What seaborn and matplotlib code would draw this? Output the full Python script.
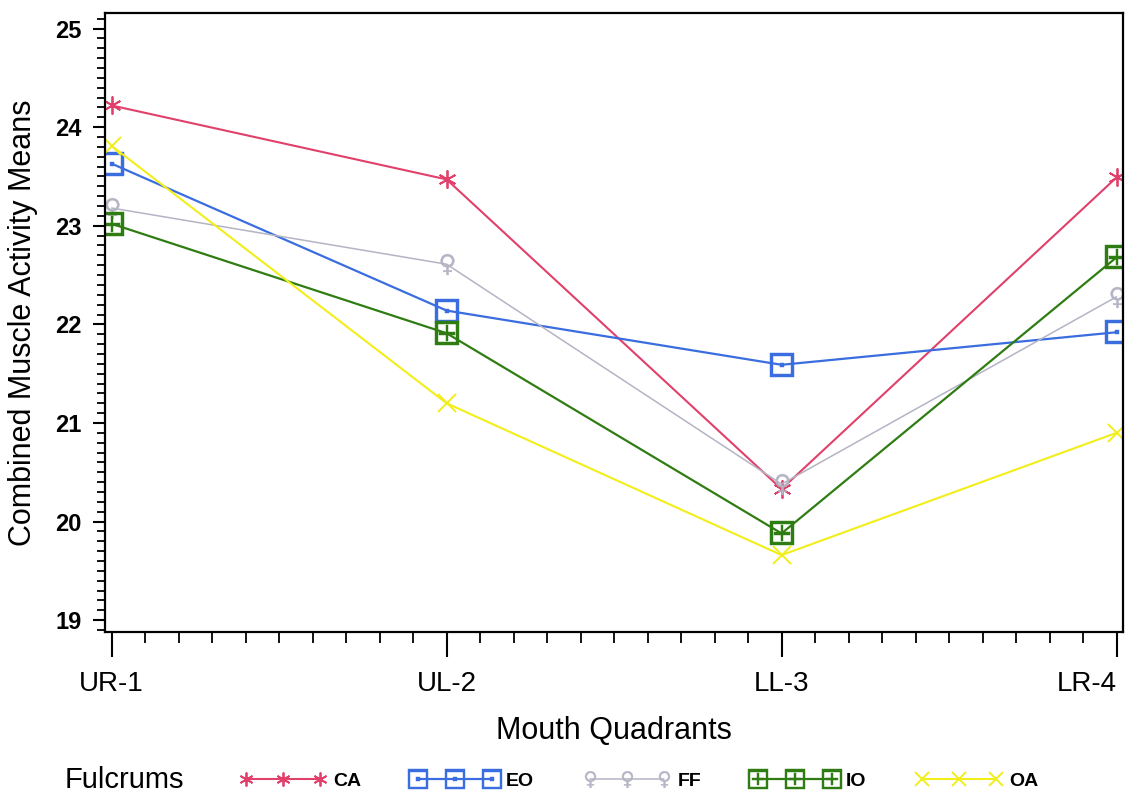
import numpy as np
import pandas as pd
import matplotlib
matplotlib.use("Agg")
import matplotlib.pyplot as plt
import matplotlib.transforms as mtrans
from matplotlib.lines import Line2D
from matplotlib.ticker import MultipleLocator
import seaborn as sns

# data
quadrants = ["UR-1", "UL-2", "LL-3", "LR-4"]
fulcrums = ["CA", "EO", "FF", "IO", "OA"]
ca_means = [24.22, 23.47, 20.33, 23.49]
eo_means = [23.63, 22.14, 21.59, 21.92]
ff_means = [23.18, 22.61, 20.38, 22.28]
io_means = [23.02, 21.91, 19.88, 22.68]
oa_means = [23.81, 21.20, 19.66, 20.90]

colors = {"CA": "#e0406a", "EO": "#3a6de0", "FF": "#b4b4c4", "IO": "#2f7d12", "OA": "#f2ee1a"}
markers = {"CA": (6, 2, 0), "EO": "$\\boxdot$", "FF": "$\u2640$", "IO": "$\\boxplus$", "OA": "x"}
msizes = {"CA": 13, "EO": 17, "FF": 15, "IO": 17, "OA": 13}
mews = {"CA": 1.3, "EO": 0.3, "FF": 0.3, "IO": 0.3, "OA": 1.4}
widths = {"CA": 1.5, "EO": 1.6, "FF": 1.1, "IO": 1.6, "OA": 1.5}

rows = []
for name, vals in zip(fulcrums, [ca_means, eo_means, ff_means, io_means, oa_means]):
    for i, v in enumerate(vals):
        rows.append({"Fulcrum": name, "pos": i, "Quadrant": quadrants[i], "Mean": v})
df = pd.DataFrame(rows)

sns.set_style("white")
plt.rcParams["font.family"] = ["Liberation Sans", "DejaVu Sans"]
plt.rcParams["text.color"] = "black"
plt.rcParams["axes.labelcolor"] = "black"
plt.rcParams["xtick.color"] = "black"
plt.rcParams["ytick.color"] = "black"

fig = plt.figure(figsize=(11.37, 7.98), dpi=100)
ax = fig.add_axes([0.0923, 0.208, 0.895, 0.776])

for name in fulcrums:
    sub = df[df["Fulcrum"] == name]
    sns.lineplot(data=sub, x="pos", y="Mean", ax=ax, color=colors[name],
                 marker=markers[name], markersize=msizes[name],
                 markeredgewidth=mews[name], markeredgecolor=colors[name],
                 markerfacecolor=colors[name],
                 linewidth=widths[name], legend=False)

ax.set_xlim(-0.02, 3.018)
ax.set_ylim(18.88, 25.16)
ax.set_xticks(range(len(quadrants)))
ax.set_xticklabels(quadrants, fontsize=20)
ax.xaxis.set_minor_locator(MultipleLocator(0.1))
ax.set_yticks([19, 20, 21, 22, 23, 24, 25])
ax.yaxis.set_minor_locator(MultipleLocator(0.1))
for lbl in ax.get_yticklabels():
    lbl.set_fontweight("bold")
    lbl.set_fontsize(17)

# last quadrant label sits a bit left of its tick, as in the original
last = ax.get_xticklabels()[-1]
last.set_ha("right")
last.set_transform(last.get_transform() + mtrans.ScaledTranslation(0.14, 0, fig.dpi_scale_trans))

ax.tick_params(axis="x", which="major", direction="out", length=18, width=1.5, pad=10, bottom=True)
ax.tick_params(axis="x", which="minor", direction="out", length=8, width=1.3, bottom=True)
ax.tick_params(axis="y", which="major", direction="out", length=9, width=1.5, pad=8, left=True)
ax.tick_params(axis="y", which="minor", direction="out", length=6, width=1.3, left=True)
for sp in ax.spines.values():
    sp.set_color("black")
    sp.set_linewidth(1.6)

ax.set_xlabel("Mouth Quadrants", fontsize=22, labelpad=14)
ax.set_ylabel("Combined Muscle Activity Means", fontsize=22, labelpad=12)

# legend along the bottom
handles = [Line2D([0], [0], color=colors[n], marker=markers[n],
                  markersize=msizes[n] - 3, markeredgewidth=mews[n],
                  markeredgecolor=colors[n], markerfacecolor=colors[n],
                  linewidth=widths[n]) for n in fulcrums]
fig.text(0.057, 0.005, "Fulcrums", fontsize=21, va="bottom", ha="left")
leg = fig.legend(handles, fulcrums, loc="lower left", bbox_to_anchor=(0.196, -0.012),
                 ncol=5, numpoints=3, handlelength=4.4, handletextpad=0.4,
                 columnspacing=2.6, frameon=False,
                 prop={"weight": "bold", "size": 14})

fig.savefig("out.png", dpi=100)
